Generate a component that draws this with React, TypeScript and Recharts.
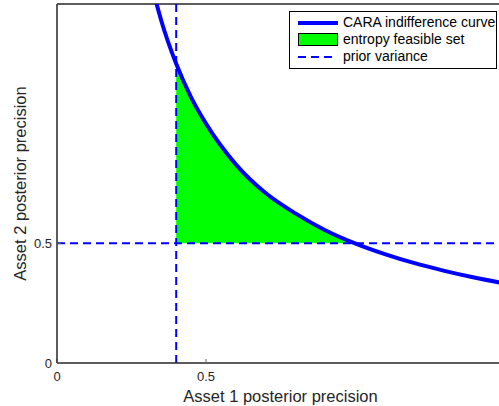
import React from 'react'
import {
  ComposedChart, Line, Area, XAxis, YAxis, ReferenceLine
} from 'recharts'

// CARA indifference curve
const curveX = [0.33, 0.35, 0.4, 0.45, 0.5, 0.6, 0.7, 0.8, 0.9, 1.0, 1.1, 1.2, 1.3, 1.4, 1.5]
const curveY = [1.52, 1.43, 1.25, 1.11, 1.0, 0.83, 0.71, 0.625, 0.555, 0.5, 0.455, 0.417, 0.385, 0.357, 0.333]
// entropy feasible set: between the curve and the prior lines
const feasX = [0.4, 0.45, 0.5, 0.6, 0.7, 0.8, 0.9, 1.0]
const feasY = [1.25, 1.11, 1.0, 0.83, 0.71, 0.625, 0.555, 0.5]
const priorX = 0.4
const priorY = 0.5
const xTicks = [0, 0.5]
const yTicks = [0, 0.5]

const data = curveX.map((x, i) => {
  const j = feasX.indexOf(x)
  return { x, curve: curveY[i], feas: j >= 0 ? feasY[j] : undefined }
})

const font = '"Liberation Sans", Arial, Helvetica, sans-serif'
const ink = '#262626'

export default function App() {
  return (
    <div style={{ position: 'absolute', left: 0, top: 0, width: 499, height: 406, overflow: 'hidden', background: '#fff', fontFamily: font }}>
      <ComposedChart width={505} height={406} data={data} margin={{ top: 4, right: 1, left: 0, bottom: 0 }}>
        <XAxis
          dataKey="x" type="number" domain={[0, 1.5]} ticks={xTicks} allowDataOverflow
          height={43} tickSize={-4} tickMargin={13}
          axisLine={{ stroke: ink, strokeWidth: 1.5 }} tickLine={{ stroke: '#666' }}
          tick={{ fill: ink, fontSize: 13, fontFamily: font }}
          tickFormatter={(v: number) => String(v)}
          label={{ value: 'Asset 1 posterior precision', position: 'insideBottom', offset: 4, fill: ink, fontSize: 16.5, fontFamily: font }}
        />
        <YAxis
          type="number" domain={[0, 1.5]} ticks={yTicks} allowDataOverflow
          width={57} tickSize={-4} tickMargin={9}
          axisLine={{ stroke: ink, strokeWidth: 1.5 }} tickLine={{ stroke: '#666' }}
          tick={{ fill: ink, fontSize: 13, fontFamily: font }}
          tickFormatter={(v: number) => String(v)}
          label={{ value: 'Asset 2 posterior precision', angle: -90, position: 'insideLeft', offset: 20, fill: ink, fontSize: 16.5, fontFamily: font, style: { textAnchor: 'middle' } }}
        />
        <ReferenceLine y={1.5} stroke={ink} strokeWidth={1.5} />
        <Area
          dataKey="feas" type="monotone" baseValue={priorY}
          fill="#00ff00" fillOpacity={1} stroke="#000" strokeWidth={1}
          isAnimationActive={false} dot={false} activeDot={false}
        />
        <Line
          dataKey="curve" type="monotone" stroke="#0000ff" strokeWidth={4}
          dot={false} activeDot={false} isAnimationActive={false}
        />
        <ReferenceLine x={priorX} stroke="#0000ff" strokeWidth={2} strokeDasharray="8 5" />
        <ReferenceLine y={priorY} stroke="#0000ff" strokeWidth={2} strokeDasharray="8 5" />
      </ComposedChart>
      <div style={{
        position: 'absolute', left: 289, top: 11, width: 206, height: 54,
        border: '1px solid #000', background: '#fff', fontSize: 14, color: '#000', lineHeight: '17px',
        paddingTop: 2, boxSizing: 'content-box'
      }}>
        <div style={{ display: 'flex', alignItems: 'center', height: 17 }}>
          <span style={{ display: 'inline-block', marginLeft: 8, width: 40, height: 4, background: '#0000ff' }} />
          <span style={{ marginLeft: 5 }}>CARA indifference curve</span>
        </div>
        <div style={{ display: 'flex', alignItems: 'center', height: 17 }}>
          <span style={{ display: 'inline-block', marginLeft: 8, width: 38, height: 11, background: '#00ff00', border: '1px solid #000' }} />
          <span style={{ marginLeft: 5 }}>entropy feasible set</span>
        </div>
        <div style={{ display: 'flex', alignItems: 'center', height: 17 }}>
          <span style={{ display: 'inline-block', marginLeft: 8, width: 40, height: 2, backgroundImage: 'linear-gradient(to right, #0000ff 0 8px, transparent 8px 13px, #0000ff 13px 21px, transparent 21px 26px, #0000ff 26px 34px, transparent 34px)', backgroundSize: '40px 2px' }} />
          <span style={{ marginLeft: 5 }}>prior variance</span>
        </div>
      </div>
    </div>
  )
}
